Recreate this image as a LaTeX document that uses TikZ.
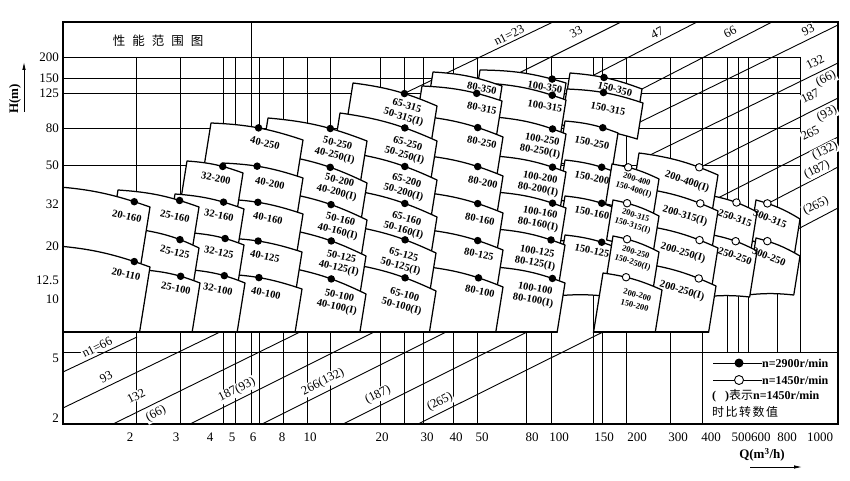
\documentclass[tikz,border=0pt]{standalone}
\usepackage{fontspec}
\setmainfont{Liberation Serif}
\newfontfamily\cjk{Noto Sans CJK SC}
\usetikzlibrary{calc,arrows.meta}

\tikzset{
  gridline/.style={line width=0.7pt},
  frameline/.style={line width=1.2pt},
  nline/.style={line width=0.9pt},
  boxline/.style={draw, fill=white, line width=1.25pt, line join=round},
  hidot/.style={circle, fill=black, inner sep=0pt, minimum size=7.5pt},
  lodot/.style={circle, draw=black, fill=white, line width=0.9pt, inner sep=0pt, minimum size=7.5pt},
  plabel/.style={font=\fontsize{10.5}{11.8}\selectfont\bfseries, align=center, inner sep=0pt},
  slabel/.style={font=\fontsize{8.5}{10.5}\selectfont\bfseries, align=center, inner sep=0pt},
  nlabel/.style={font=\fontsize{12.5}{12.5}\selectfont, rotate=27, fill=white, inner sep=0.8pt},
  axlabel/.style={font=\fontsize{13}{13}\selectfont},
  legtext/.style={font=\fontsize{12}{12}\selectfont\bfseries, anchor=west, inner sep=0pt},
}

% pump box: top left, top right, left height, right height, dot pos, dot style, dot name
\newcommand{\pumpbox}[7]{%
  \filldraw[boxline] #1 to[bend left=8] node[pos=#5, #6] (#7) {} #2
    -- ($#2+({-0.16*#4},#4)$) to[bend right=6] ($#1+({-0.16*#3},#3)$) -- cycle;}

\begin{document}
\begin{tikzpicture}[x=1pt, y=-1pt]
  \useasboundingbox (0,0) rectangle (850,481);
  % grid
  \foreach \y in {57,78,93,128,165} \draw[gridline] (63,\y) -- (800,\y);
  \draw[gridline] (63,352) -- (838,352);
  \foreach \x in {136,180,223,235,259,283,307,330,380,404,423,453,477,526,551,593,602,626,670,702}
    \draw[gridline] (\x,57) -- (\x,424);
  \draw[gridline] (251,22) -- (251,424);
  \foreach \x in {727,738,748,777,800} \draw[gridline] (\x,57) -- (\x,352);
  % specific speed lines
  \foreach \a/\b/\c/\d in {401/95/553/22, 505/80/621/22, 590/77/697/22, 640/90/772/22,
      636/124/838/25, 646/157/838/63, 697/169/838/98, 716/199/838/137, 763/206/838/167,
      796/230/838/208, 63/372/137/337, 63/408/220/332, 113/424/300/332, 190/424/374/332,
      262/424/446/332, 343/424/527/332, 418/424/603/332}
    \draw[nline] (\a,\b) -- (\c,\d);
  % pump boxes, right columns first
  \begin{scope}
    \clip (63,0) rectangle (838,332);
    \pumpbox{(756,200)}{(800,219)}{40}{40}{.23}{lodot}{o300x315}
    \pumpbox{(756,238)}{(800,256)}{57}{39}{.23}{lodot}{o300x250}
    \pumpbox{(713,196)}{(757,212)}{42}{42}{.52}{lodot}{o250x315}
    \pumpbox{(713,235)}{(757,251)}{62}{46}{.50}{lodot}{o250x250}
    \pumpbox{(639,153)}{(718,175)}{42}{42}{.77}{lodot}{o200x400}
    \pumpbox{(640,188)}{(718,211)}{42}{42}{.78}{lodot}{o200x315}
    \pumpbox{(640,225)}{(718,248)}{42}{42}{.77}{lodot}{o200x250}
    \pumpbox{(640,263)}{(716,286)}{80}{80}{.78}{lodot}{o200x250b}
    \pumpbox{(570,73)}{(642,89)}{20}{20}{.46}{hidot}{d150x350}
    \pumpbox{(567,89)}{(643,103)}{36}{36}{.47}{hidot}{d150x315}
    \pumpbox{(565,121)}{(618,133)}{42}{42}{.72}{hidot}{d150x250}
    \pumpbox{(565,160)}{(620,174)}{40}{40}{.67}{hidot}{d150x200}
    \pumpbox{(565,196)}{(620,210)}{44}{44}{.67}{hidot}{d150x160}
    \pumpbox{(565,235)}{(620,249)}{61}{48}{.67}{hidot}{d150x125}
    \pumpbox{(612,164)}{(659,179)}{40}{40}{.32}{lodot}{o150x400}
    \pumpbox{(613,200)}{(659,216)}{40}{40}{.28}{lodot}{o150x315}
    \pumpbox{(613,236)}{(659,252)}{40}{40}{.28}{lodot}{o150x250}
    \pumpbox{(603,273)}{(662,290)}{70}{70}{.37}{lodot}{o150x200}
    \pumpbox{(480,70)}{(566,83)}{22}{22}{.85}{hidot}{d100x350}
    \pumpbox{(485,83)}{(566,100)}{38}{38}{.84}{hidot}{d100x315}
    \pumpbox{(495,117)}{(566,134)}{45}{45}{.82}{hidot}{d100x250}
    \pumpbox{(495,156)}{(566,172)}{42}{42}{.82}{hidot}{d100x200}
    \pumpbox{(495,192)}{(566,208)}{42}{42}{.82}{hidot}{d100x160}
    \pumpbox{(495,229)}{(565,245)}{42}{42}{.81}{hidot}{d100x125}
    \pumpbox{(495,267)}{(565,283)}{80}{80}{.83}{hidot}{d100x100}
    \pumpbox{(433,72)}{(502,86)}{20}{20}{.50}{coordinate}{c80x350}
    \pumpbox{(422,86)}{(502,101)}{38}{38}{.69}{hidot}{d80x315}
    \pumpbox{(420,116)}{(503,137)}{45}{45}{.70}{hidot}{d80x250}
    \pumpbox{(420,155)}{(503,176)}{42}{42}{.70}{hidot}{d80x200}
    \pumpbox{(420,192)}{(503,213)}{42}{42}{.70}{hidot}{d80x160}
    \pumpbox{(420,229)}{(503,250)}{42}{42}{.70}{hidot}{d80x125}
    \pumpbox{(420,266)}{(503,287)}{80}{80}{.71}{hidot}{d80x100}
    \pumpbox{(353,83)}{(437,106)}{40}{40}{.61}{hidot}{d65x315}
    \pumpbox{(340,113)}{(437,141)}{47}{47}{.67}{hidot}{d65x250}
    \pumpbox{(345,152)}{(437,180)}{42}{42}{.65}{hidot}{d65x200}
    \pumpbox{(345,189)}{(437,217)}{42}{42}{.65}{hidot}{d65x160}
    \pumpbox{(345,225)}{(436,253)}{42}{42}{.66}{hidot}{d65x125}
    \pumpbox{(345,263)}{(436,291)}{80}{80}{.66}{hidot}{d65x100}
    \pumpbox{(268,118)}{(367,141)}{47}{47}{.63}{hidot}{d50x250}
    \pumpbox{(280,155)}{(367,183)}{42}{42}{.57}{hidot}{d50x200}
    \pumpbox{(280,192)}{(367,220)}{42}{42}{.58}{hidot}{d50x160}
    \pumpbox{(280,228)}{(366,256)}{42}{42}{.59}{hidot}{d50x125}
    \pumpbox{(280,266)}{(366,294)}{80}{80}{.59}{hidot}{d50x100}
    \pumpbox{(211,123)}{(303,140)}{45}{45}{.51}{hidot}{d40x250}
    \pumpbox{(222,163)}{(303,178)}{44}{44}{.42}{hidot}{d40x200}
    \pumpbox{(222,199)}{(303,214)}{46}{46}{.43}{hidot}{d40x160}
    \pumpbox{(222,238)}{(302,252)}{45}{45}{.44}{hidot}{d40x125}
    \pumpbox{(222,274)}{(302,289)}{80}{80}{.45}{hidot}{d40x100}
    \pumpbox{(187,161)}{(243,173)}{40}{40}{.64}{hidot}{d32x200}
    \pumpbox{(175,194)}{(244,209)}{46}{46}{.71}{hidot}{d32x160}
    \pumpbox{(193,233)}{(244,245)}{45}{45}{.63}{hidot}{d32x125}
    \pumpbox{(193,270)}{(245,283)}{80}{80}{.60}{hidot}{d32x100}
    \pumpbox{(118,190)}{(199,207)}{52}{52}{.77}{hidot}{d25x160}
    \pumpbox{(143,230)}{(199,248)}{46}{46}{.66}{hidot}{d25x125}
    \pumpbox{(145,270)}{(200,283)}{80}{80}{.65}{hidot}{d25x100}
    \pumpbox{(45,186)}{(150,207)}{68}{68}{.86}{hidot}{d20x160}
    \pumpbox{(45,245)}{(150,267)}{100}{100}{.86}{hidot}{d20x110}
  \end{scope}
  \draw[frameline] (63,332) -- (557,332);
  \draw[frameline] (593,332) -- (709,332);
  \draw[frameline] (63,22) rectangle (838,424);
  % pump labels
  \foreach \x/\y/\r/\t in {127/216/-13/20-160, 126/274/-13/20-110,
      175/216/-13/25-160, 175/252/-13/25-125, 176/288/-12/25-100,
      216/178/-12/32-200, 219/215/-12/32-160, 219/252/-12/32-125, 218/289/-12/32-100,
      265/143/-14/40-250, 270/183/-12/40-200, 268/218/-12/40-160, 265/256/-13/40-125, 266/293/-12/40-100,
      336/150/-14/{50-250\\40-250(I)}, 338/187/-14/{50-200\\40-200(I)}, 339/226/-14/{50-160\\40-160(I)},
      340/263/-13/{50-125\\40-125(I)}, 338/302/-13/{50-100\\40-100(I)},
      405/112/-17/{65-315\\50-315(I)}, 406/150/-16/{65-250\\50-250(I)}, 405/187/-16/{65-200\\50-200(I)},
      405/225/-16/{65-160\\50-160(I)}, 402/261/-15/{65-125\\50-125(I)}, 403/301/-15/{65-100\\50-100(I)},
      482/88/-12/80-350, 482/108/-12/80-315, 482/142/-12/80-250, 483/182/-12/80-200,
      480/219/-12/80-160, 479/254/-12/80-125, 480/291/-12/80-100,
      545/87/-10/100-350, 545/106/-10/100-315, 541/146/-11/{100-250\\80-250(I)},
      539/184/-11/{100-200\\80-200(I)}, 539/219/-11/{100-160\\80-160(I)},
      536/258/-11/{100-125\\80-125(I)}, 534/295/-11/{100-100\\80-100(I)},
      615/89/-14/150-350, 608/109/-12/150-315, 592/143/-12/150-250, 592/178/-12/150-200,
      592/213/-12/150-160, 592/251/-12/150-125,
      687/182/-19/200-400(I), 685/216/-17/200-315(I), 683/253/-17/200-250(I), 682/291/-17/200-250(I),
      735/218/-20/250-315, 735/256/-20/250-250, 770/219/-22/300-315, 769/257/-22/300-250}
    \node[plabel, rotate=\r] at (\x,\y) {\t};
  \foreach \x/\y/\r/\t in {635/185/-18/{200-400\\150-400(I)}, 634/221/-18/{200-315\\150-315(I)},
      634/258/-18/{200-250\\150-250(I)}, 636/300/-15/{200-200\\150-200}}
    \node[slabel, rotate=\r] at (\x,\y) {\t};
  % specific speed labels
  \foreach \x/\y/\t in {509/35/n1=23, 576/32/33, 657/33/47, 730/32/66, 808/30/93,
      815/62/132, 826/79/(66), 810/96/187, 827/114/(93), 810/133/265, 825/151/(132),
      817/170/(187), 816/206/(265), 97/347/n1=66, 106/377/93, 136/396/132, 156/414/(66),
      237/390/187(93), 323/382/266(132), 378/395/(187), 440/402/(265)}
    \node[nlabel] at (\x,\y) {\t};
  % axes
  \foreach \t/\y in {200/57, 150/78, 125/93, 80/128, 50/165, 32/204, 20/246, 12.5/280, 10/299, 5/358, 2/418}
    \node[axlabel, anchor=east, inner sep=0pt] at (59,\y) {\t};
  \foreach \t/\x in {2/130, 3/176, 4/210, 5/232, 6/253, 8/282, 10/310, 20/382, 30/427, 40/456, 50/482,
      80/532, 100/559, 150/604, 200/637, 300/678, 400/711, 500600/751, 800/787, 1000/820}
    \node[axlabel] at (\x,437) {\t};
  \node[axlabel, font=\fontsize{13}{13}\selectfont\bfseries, rotate=90] (hlab) at (15,99) {H(m)};
  \draw[-{Latex[length=8pt,width=3.5pt]}, line width=0.8pt] (24,112) -- (24,62);
  \node[axlabel, font=\fontsize{13}{13}\selectfont\bfseries] (qlab) at (762,455) {Q(m\textsuperscript{3}/h)};
  \draw[-{Latex[length=8pt,width=3.5pt]}, line width=0.8pt] (750,467) -- (802,467);
  \node[font=\cjk\fontsize{12.5}{12.5}\selectfont] (title) at (158,41)
    {性\hspace{7pt}能\hspace{7pt}范\hspace{7pt}围\hspace{7pt}图};
  % legend
  \draw[line width=1pt] (713,363) -- (762,363);
  \node[hidot, minimum size=9pt] (leghi) at (739,363) {};
  \node[legtext] at (762,363) {n=2900r/min};
  \draw[line width=1pt] (713,380) -- (762,380);
  \node[lodot, minimum size=9pt] (leglo) at (739,380) {};
  \node[legtext] at (762,380) {n=1450r/min};
  \node[legtext] at (712,396) {(\hspace{9pt}){\cjk\mdseries 表示}n=1450r/min};
  \node[legtext] at (712,412) {\cjk\mdseries 时\hspace{1.5pt}比\hspace{1.5pt}转\hspace{1.5pt}数\hspace{1.5pt}值};
\end{tikzpicture}
\end{document}
